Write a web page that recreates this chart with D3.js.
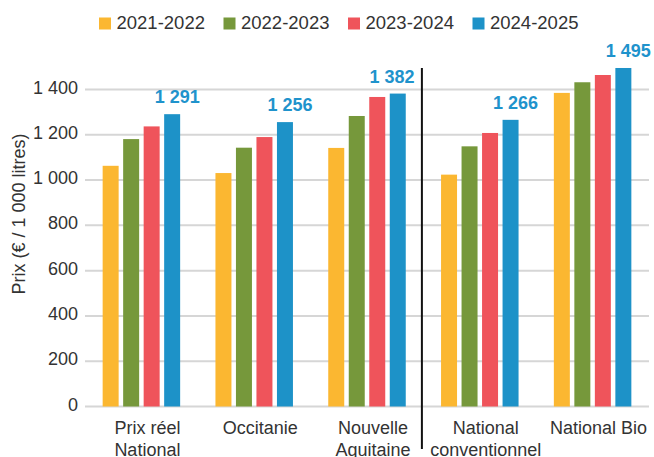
<!DOCTYPE html>
<html>
<head>
<meta charset="utf-8">
<script src="https://cdn.jsdelivr.net/npm/d3@7"></script>
<style>
  html, body { margin: 0; padding: 0; background: #fff; }
  svg { display: block; font-family: "Liberation Sans", Arial, sans-serif; }
</style>
</head>
<body>
<svg id="chart" width="654" height="457"></svg>
<script>
// ---- data ----
const categories = ["Prix réel\nNational", "Occitanie", "Nouvelle\nAquitaine", "National\nconventionnel", "National Bio"];
const seriesNames = ["2021-2022", "2022-2023", "2023-2024", "2024-2025"];
const colors = ["#FBB731", "#76983B", "#EF545B", "#1D92C8"];
const values2021 = [1063, 1031, 1142, 1024, 1385];
const values2022 = [1181, 1143, 1283, 1149, 1432];
const values2023 = [1237, 1190, 1367, 1208, 1464];
const values2024 = [1291, 1256, 1382, 1266, 1495];
const yTicks = [0, 200, 400, 600, 800, 1000, 1200, 1400];
const yTitle = "Prix (€ / 1 000 litres)";
const dividerAfter = 3; // divider between the 3rd and 4th group

const seriesValues = [values2021, values2022, values2023, values2024];
const fmt = v => d3.format(",")(v).replace(/,/g, " ");

const svg = d3.select("#chart");
const W = 654, H = 457;
const plot = { left: 85, right: 649, top: 89.5, bottom: 406.5 };
const textColor = "#333333";

const x0 = d3.scaleBand().domain(d3.range(categories.length)).range([plot.left, plot.right]).paddingInner(0).paddingOuter(0);
const groupW = 77.5;
const x1 = d3.scaleBand().domain(d3.range(seriesNames.length)).range([0, groupW]).paddingInner(0.22).paddingOuter(0);
const y = d3.scaleLinear().domain([0, 1400]).range([plot.bottom, plot.top]);
const groupOffset = (x0.bandwidth() - groupW) / 2;

// gridlines
svg.append("g").selectAll("line").data(yTicks).join("line")
  .attr("x1", plot.left).attr("x2", plot.right)
  .attr("y1", d => y(d)).attr("y2", d => y(d))
  .attr("stroke", "#d6d6d6").attr("stroke-width", 2);

// y tick labels
svg.append("g").selectAll("text").data(yTicks).join("text")
  .attr("x", 78).attr("y", d => y(d) + 4)
  .attr("text-anchor", "end")
  .attr("font-size", 18).attr("fill", textColor)
  .text(d => fmt(d));

// y title
svg.append("text")
  .attr("transform", `translate(25,214) rotate(-90)`)
  .attr("text-anchor", "middle")
  .attr("font-size", 18).attr("fill", textColor)
  .text(yTitle);

// bars
const groups = svg.append("g").selectAll("g").data(categories.map((c, i) => i)).join("g")
  .attr("transform", i => `translate(${x0(i) + groupOffset},0)`);
groups.selectAll("rect").data(i => seriesValues.map((s, j) => ({ j, v: s[i] }))).join("rect")
  .attr("x", d => x1(d.j)).attr("width", x1.bandwidth())
  .attr("y", d => y(d.v)).attr("height", d => y(0) - y(d.v))
  .attr("fill", d => colors[d.j]);

// divider
const divX = x0(dividerAfter) - 1.5;
svg.append("line")
  .attr("x1", divX).attr("x2", divX).attr("y1", 68).attr("y2", 449)
  .attr("stroke", "#111").attr("stroke-width", 2);

// value labels (last series)
const lastIdx = seriesNames.length - 1;
const labelHalf = 23;
svg.append("g").selectAll("text").data(values2024).join("text")
  .attr("x", (v, i) => {
    let cx = x0(i) + groupOffset + x1(lastIdx) + x1.bandwidth() / 2 + 5;
    if (i < dividerAfter && cx + labelHalf > divX - 7) cx = divX - 7 - labelHalf;
    return cx;
  })
  .attr("y", v => y(v) - 11)
  .attr("text-anchor", "middle")
  .attr("font-size", 18).attr("font-weight", "bold").attr("fill", "#1F93CC")
  .text(v => fmt(v));

// category labels
const cl = svg.append("g").selectAll("text").data(categories).join("text")
  .attr("x", (c, i) => x0(i) + x0.bandwidth() / 2 + 6)
  .attr("y", 434)
  .attr("text-anchor", "middle")
  .attr("font-size", 18).attr("fill", textColor);
cl.each(function(c) {
  const lines = c.split("\n");
  const t = d3.select(this);
  const xx = t.attr("x");
  lines.forEach((ln, k) => {
    t.append("tspan").attr("x", xx).attr("dy", k === 0 ? 0 : 22).text(ln);
  });
});

// legend
const legend = svg.append("g").selectAll("g").data(seriesNames).join("g")
  .attr("transform", (d, i) => `translate(${99 + i * 124.5},0)`);
legend.append("rect").attr("x", 0).attr("y", 17.5).attr("width", 12).attr("height", 12)
  .attr("fill", (d, i) => colors[i]);
legend.append("text").attr("x", 17.5).attr("y", 29.3)
  .attr("font-size", 18.5).attr("fill", textColor)
  .text(d => d);
</script>
</body>
</html>
